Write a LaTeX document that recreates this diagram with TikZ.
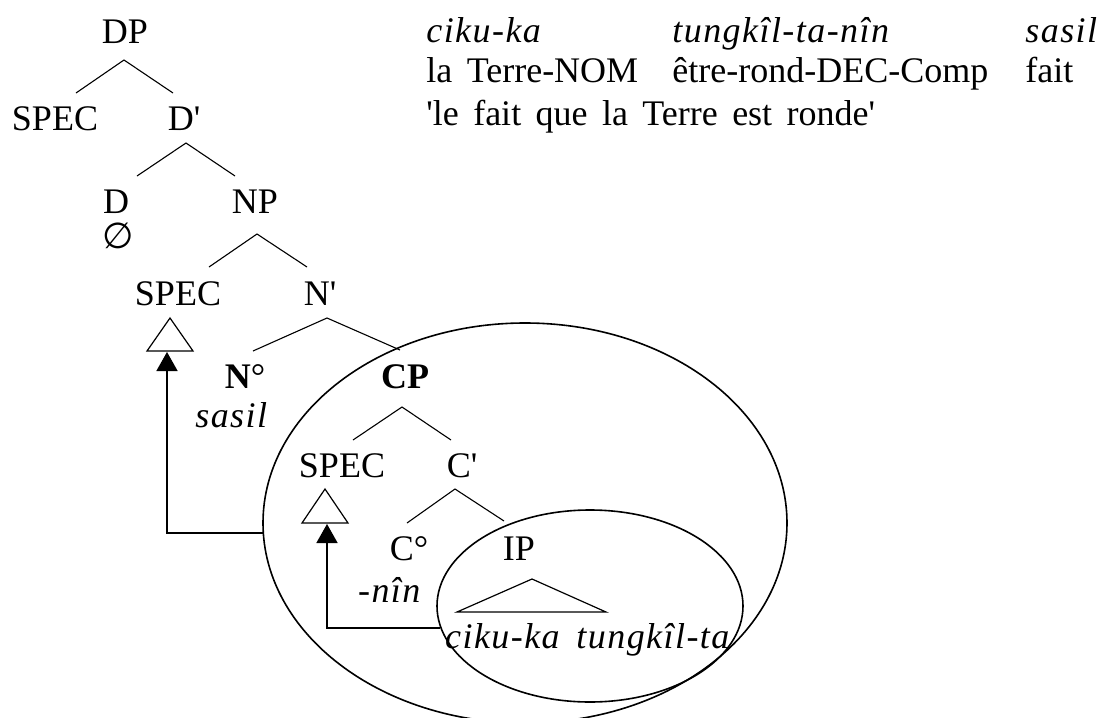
\documentclass[tikz,border=0pt]{standalone}
\usepackage{fontspec}
\setmainfont{Liberation Serif}[Ligatures=TeXOff, WordSpace=1.6, ItalicFeatures={LetterSpace=4}]
\newfontfamily\symfont{DejaVu Sans}
\usetikzlibrary{arrows.meta}
\begin{document}
\begin{tikzpicture}[x=0.5pt,y=-0.5pt,
  lbl/.style={inner sep=0pt, anchor=base, font=\fontsize{18pt}{21pt}\selectfont},
  lblw/.style={lbl, anchor=base west},
  branch/.style={line width=0.55pt},
  tri/.style={line width=0.6pt, fill=white},
  ring/.style={line width=0.8pt},
  move/.style={line width=0.8pt, -{Triangle[length=9.5pt,width=10.5pt]}}]
\useasboundingbox (0,0) rectangle (1104,718);

% ellipses
\draw[ring] (525,523) ellipse [x radius=131pt, y radius=100pt];
\draw[ring] (590,606) ellipse [x radius=76.5pt, y radius=48pt];

% labels of the tree
\node[lbl] (DP) at (125,43) {DP};
\node[lbl] (SPECa) at (55,130) {SPEC};
\node[lbl] (Dbar) at (184,130) {D'};
\node[lbl] (D) at (116,213) {D};
\node[lbl] (NP) at (255,213) {NP};
\node[lbl] (empty) at (118,248) {\symfont ∅};
\node[lbl] (SPECb) at (178,305) {SPEC};
\node[lbl] (Nbar) at (320,305) {N'};
\node[lbl] (N0) at (245,388) {\textbf{N}°};
\node[lbl] (sasil) at (232,427) {\textit{sasil}};
\node[lbl] (CP) at (405,388) {\textbf{CP}};
\node[lbl] (SPECc) at (342,477) {SPEC};
\node[lbl] (Cbar) at (462,477) {C'};
\node[lbl] (C0) at (409,560) {C°};
\node[lbl] (IP) at (519,560) {IP};
\node[lbl] (nin) at (390,602) {\textit{-nîn}};
\node[lbl] (ciku) at (588,648) {\textit{ciku-ka tungkîl-ta}};

% gloss
\node[lblw] (g1) at (426,42) {\textit{ciku-ka}};
\node[lblw] (g2) at (672,42) {\textit{tungkîl-ta-nîn}};
\node[lblw] (g3) at (1025,42) {\textit{sasil}};
\node[lblw] (t1) at (426,82) {la Terre-NOM};
\node[lblw] (t2) at (672,82) {être-rond-DEC-Comp};
\node[lblw] (t3) at (1025,82) {fait};
\node[lblw] (tr) at (426,125) {'le fait que la Terre est ronde'};

% branch points
\coordinate (dpA) at (124,60);  \coordinate (dpL) at (76,93);   \coordinate (dpR) at (173,93);
\coordinate (dbA) at (186,143); \coordinate (dbL) at (137,176); \coordinate (dbR) at (235,176);
\coordinate (npA) at (257,234); \coordinate (npL) at (209,267); \coordinate (npR) at (307,267);
\coordinate (nbA) at (327,318); \coordinate (nbL) at (253,351); \coordinate (nbR) at (400,350);
\coordinate (cpA) at (402,407); \coordinate (cpL) at (353,440); \coordinate (cpR) at (451,440);
\coordinate (cbA) at (455,489); \coordinate (cbL) at (407,523); \coordinate (cbR) at (504,521);

\draw[branch] (dpL) -- (dpA) -- (dpR);
\draw[branch] (dbL) -- (dbA) -- (dbR);
\draw[branch] (npL) -- (npA) -- (npR);
\draw[branch] (nbL) -- (nbA) -- (nbR);
\draw[branch] (cpL) -- (cpA) -- (cpR);
\draw[branch] (cbL) -- (cbA) -- (cbR);

% triangles
\coordinate (t1A) at (170,318); \coordinate (t1L) at (147,351); \coordinate (t1R) at (193,351);
\coordinate (t2A) at (325,489); \coordinate (t2L) at (302,523); \coordinate (t2R) at (348,523);
\coordinate (t3A) at (532,579); \coordinate (t3L) at (457,612); \coordinate (t3R) at (606,612);
\draw[tri] (t1A) -- (t1L) -- (t1R) -- cycle;
\draw[tri] (t2A) -- (t2L) -- (t2R) -- cycle;
\draw[tri] (t3A) -- (t3L) -- (t3R) -- cycle;

% movement arrows
\coordinate (m1s) at (263,533); \coordinate (m1t) at (167,352);
\coordinate (m2s) at (440,628); \coordinate (m2t) at (327,524);
\draw[move] (m1s) -| (m1t);
\draw[move] (m2s) -| (m2t);
\end{tikzpicture}
\end{document}
